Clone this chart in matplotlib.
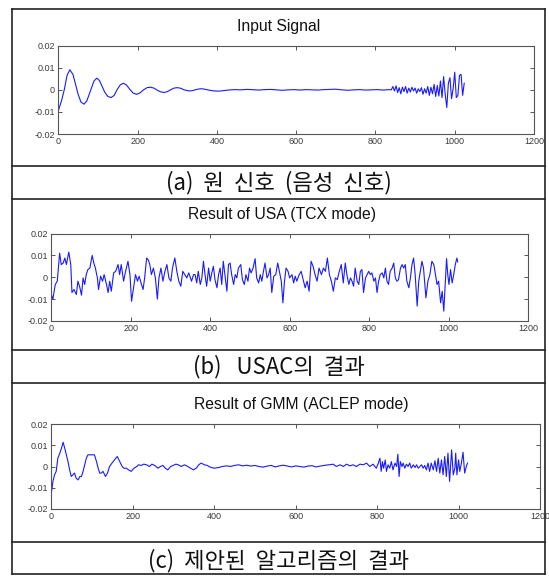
import numpy as np
import matplotlib
matplotlib.use("Agg")
import matplotlib.pyplot as plt
from matplotlib.lines import Line2D

# ---------------- data (values in units of 1e-3) ----------------
titles = ["Input Signal", "Result of USA (TCX mode)", "Result of GMM (ACLEP mode)"]
captions = ["(a)  원  신호  (음성  신호)", "(b)   USAC의  결과", "(c)  제안된  알고리즘의  결과"]
x_ticks = [0, 200, 400, 600, 800, 1000, 1200]
y_ticks = [-0.02, -0.01, 0, 0.01, 0.02]
y_tick_labels = ["-0.02", "-0.01", "0", "0.01", "0.02"]

sig1_idx = [0, 8, 15, 22, 29, 37, 45, 50, 57, 65, 72, 79, 84, 90, 97, 104, 112, 117, 125, 133,
            141, 148, 156, 164, 172, 180, 189, 198, 206, 215, 224, 233, 241, 250, 258, 267, 275,
            284, 292, 301, 309, 316, 324, 332, 340, 347, 355, 362, 372, 382, 393, 403, 415, 428,
            445, 460, 475, 490, 505, 520, 535, 550, 565, 580, 595, 610, 625, 640, 655, 670, 685,
            700, 715, 730, 745, 760, 775, 790, 805, 820, 835,
            840, 844, 848, 852, 856, 860, 864, 868, 872, 876, 880, 884, 888, 892, 896, 900, 904,
            908, 912, 916, 920, 924, 928, 932, 936, 940, 944, 948, 952, 956, 960, 964, 968, 972,
            976, 980, 984, 988, 992, 996, 1000, 1004, 1008, 1012, 1016, 1020, 1024]
sig1_val = [-9.5, -5.0, 0.0, 6.5, 9.1, 7.0, 1.5, -2.0, -5.5, -6.5, -5.0, -1.5, 1.0, 4.0, 5.3, 4.2,
            1.0, -1.0, -3.0, -3.5, -2.5, 0.0, 2.2, 3.0, 2.2, 0.3, -1.5, -2.0, -1.4, 0.0, 1.0, 1.2,
            0.8, -0.2, -0.9, -1.2, -0.8, 0.1, 0.8, 1.0, 0.7, 0.1, -0.3, -0.5, -0.3, 0.1, 0.4, 0.5,
            0.2, -0.2, -0.5, -0.6, -0.4, -0.1,
            0.1, 0.0, 0.2, 0.1, -0.1, 0.1, 0.2, 0.0, -0.2, 0.0, 0.1, -0.1, 0.1, 0.0, -0.1, 0.1, 0.2,
            0.3, 0.0, -0.2, 0.0, 0.1, -0.1, 0.0, 0.1, -0.1, 0.1,
            0.0, 1.5, -0.5, 1.8, -1.2, 1.0, -1.8, 1.2, -0.8, 1.5, -1.5, 0.8, -1.0, 1.2, -0.5, 0.8,
            -1.5, 0.5, -0.8, 1.0, -2.0, 0.5, -1.5, 1.5, -2.5, 1.2, -1.8, 2.5, -3.0, 2.0, -2.8, 4.0,
            -3.5, 6.0, -2.0, -8.0, 3.0, 5.5, -4.0, 0.5, 8.0, -3.5, -2.5, 6.5, 7.0, -2.5, 3.0]

sig2_idx = [0, 2, 4, 10, 15, 21, 25, 30, 34, 38, 44, 49, 52, 57, 63, 67, 72, 76, 80, 84, 88, 92,
            97, 103, 107, 111, 116, 119, 124, 129, 133, 139, 143, 147, 151, 157, 162, 168, 172,
            176, 182, 187, 193, 198, 202, 207, 212, 217, 221, 227, 231, 235, 240, 244, 248, 252,
            257, 262, 267, 271, 276, 281, 286, 291, 296, 301, 305, 311, 316, 321, 326, 331, 336,
            341, 346, 353, 358,
            362, 366, 370, 375, 379, 383, 387, 391, 396, 400, 404, 408, 412, 417, 421, 425, 429,
            433, 438, 442, 446, 450, 454, 459, 463, 467, 471, 477, 481, 486, 490, 495, 499, 503,
            508, 513, 517, 522, 526, 530, 534, 538, 543, 547, 551, 555, 560, 565, 570, 575, 579,
            583, 587, 591, 596, 600, 606, 610, 614, 618, 624, 629, 634, 639, 644, 649, 654, 659,
            664, 669, 674, 680, 685, 690, 695, 700, 705, 710, 715, 720, 725, 730, 735,
            740, 744, 749, 753, 757, 761, 765, 770, 774, 778, 782, 786, 791, 795, 799, 803, 807,
            812, 816, 820, 824, 828, 833, 837, 841, 845, 849, 853, 858, 862, 866, 870, 874, 879,
            883, 887, 891, 895, 900, 904, 908, 912, 916, 921, 925, 929, 933, 937, 943, 948, 953,
            958, 963, 967, 971, 975, 980, 984, 988, 992, 995, 998, 1001, 1005, 1009, 1013, 1017,
            1021, 1023]
sig2_val = [-7.9, -9.0, -10.0, -3.3, -1.8, 11.0, 5.8, 6.5, 8.8, 5.8, 11.5, 5.8, -7.0, -5.6, -7.9,
            -1.8, -4.8, -8.2, -0.3, -3.3, 1.2, 3.5, 4.2, 10.0, 6.5, 4.2, -0.3, -5.6, 0.5, -1.8,
            1.2, -3.3, -7.0, -1.8, -6.4, 2.0, 2.7, 5.8, 1.2, 5.8, -1.8, 2.7, 7.3, 1.2, -11.0,
            -4.8, 1.2, -1.8, 0.5, -3.3, -5.6, -0.3, 8.8, 8.0, 5.8, 1.2, 4.2, -0.3, -10.0, -0.3,
            4.2, -1.8, 2.7, 5.8, -0.3, -1.8, 4.2, 8.8, 2.7, -1.8, -4.1, 2.7, 1.2, -0.3, 2.0, -1.8,
            1.2,
            1.2, -2.6, 2.7, -3.3, -0.3, 7.3, 1.2, -4.1, 4.2, -1.8, 2.0, 5.0, -1.1, -4.8, 1.2, 4.2,
            -3.3, 7.3, -0.3, -6.4, 5.8, 6.5, 1.2, -3.3, 1.2, -0.3, 4.2, 5.8, -1.1, -3.3, 1.2, -1.8,
            4.2, 2.0, 4.2, 8.5, -0.3, -2.6, 1.2, -1.8, 2.7, 6.5, -0.3, 1.2, 4.2, -7.0, 0.5, 1.2,
            6.5, 2.0, -1.8, -11.7, -1.8, 4.2, 2.7, -0.3, 1.2, -2.6, 0.5, -1.8, 1.2, 2.7, -1.1,
            -4.8, -1.8, -6.4, 7.3, 5.0, 1.2, -1.8, 4.2, 1.2, 4.2, 2.7, 8.8, 1.2, -1.8, -6.4, -0.3,
            -1.1, 2.7, 5.8, -2.6,
            6.5, 1.2, -3.3, -0.3, -1.8, -4.1, 4.2, -1.8, -3.3, 2.7, 3.5, -7.0, -0.3, 1.2, 2.7, 1.2,
            2.0, -1.8, -0.3, -7.0, -1.8, 1.2, 2.0, -0.3, 4.2, -1.8, -3.3, 2.7, 4.2, 6.5, -0.3,
            -1.8, -1.1, 4.2, 5.8, 4.2, 5.8, -1.8, -4.8, -0.3, 5.8, 8.8, 1.2, -13.2, -1.8, 2.7, 7.3,
            4.2, -9.4, -1.8, 1.2, 7.3, 5.8, 1.2, -3.3, -1.8, -11.7, -6.4, -15.5, -1.8, 8.5, 1.2,
            -3.3, 3.5, -2.6, 1.2, 5.8, 8.8, 7.0]

sig3_idx = [0, 2, 4, 8, 12, 16, 21, 25, 29, 33, 37, 41, 45, 49, 53, 57, 61, 66, 70, 74, 78, 82,
            86, 90, 98, 106, 111, 115, 119, 123, 127, 133, 138, 143, 149, 155, 162, 168, 174, 178,
            184, 190, 196, 203, 210, 214, 221, 227, 234, 241, 247, 254, 262, 268, 274, 280, 286,
            293, 299, 306, 312, 319, 327, 335, 342, 349, 356, 362, 368, 376, 383,
            390, 400, 410, 420, 430, 440, 450, 460, 470, 480, 490, 500, 510, 520, 530, 540, 550,
            560, 570, 580, 590, 600, 610, 620, 630, 640, 650, 660, 670, 680,
            684, 692, 700, 709, 717, 725, 733, 741, 749, 758, 766, 774, 782, 790, 798, 803, 807,
            810, 813, 816, 820, 823, 827, 831, 835, 839, 844, 848, 851, 854, 857, 861, 864, 868,
            872, 876, 880, 884, 889, 893, 897, 901, 905, 909, 913, 917, 921, 925, 929, 933, 938,
            942, 946, 950, 954, 958, 962, 966, 970, 974, 978, 983, 987, 991, 993, 996, 1000, 1003,
            1007, 1011, 1015, 1019, 1022]
sig3_val = [-12.5, -10.0, -7.0, -3.9, -2.3, 3.9, 6.3, 8.6, 11.4, 8.6, 5.5, 2.3, -1.6, -4.7, -3.9,
            -3.1, -5.5, -6.3, -4.7, -4.7, -2.3, 0.8, 3.9, 5.5, 5.5, 5.5, 2.3, -0.8, -3.1, -3.1,
            -2.3, -4.7, -3.1, 0.0, 1.6, 3.1, 4.7, 2.3, 0.0, -0.8, -0.8, -1.6, -2.3, -0.8, 0.0, 0.8,
            0.5, 1.1, 0.8, 0.0, 1.1, 0.5, -0.8, 0.0, 0.5, -0.8, -1.6, 0.0, 0.5, 1.1, 0.8, 0.0, 0.8,
            0.0, -0.8, -1.6, -0.8, 0.8, 1.6, 0.8, 0.5,
            -0.3, -0.8, -0.5, 0.0, 0.3, 0.0, 0.5, 0.8, 0.3, 0.6, 0.2, 0.5, 0.0, -0.3, 0.2, 0.5,
            -0.2, 0.3, 0.6, 0.2, -0.2, 0.3, 0.0, -0.3, 0.2, 0.4, -0.2, 0.2, 0.5, 0.8,
            0.8, 1.1, 0.0, 0.8, 0.0, 1.1, 0.3, 0.8, 0.0, 1.1, 0.8, 1.6, 0.0, 1.1, -0.8, 1.6, 3.9,
            -2.3, 2.3, -0.8, 3.1, -2.3, 0.8, -0.8, 2.3, -1.6, 1.6, 0.0, 5.8, -4.7, 2.3, 0.0, 1.6,
            -0.8, 1.1, 0.0, 1.6, -0.8, 0.8, -0.5, 0.8, -0.8, 0.0, 0.8, -0.8, 0.5, -1.6, 1.6, -2.3,
            1.6, -1.6, 2.7, -2.3, 3.9, -3.1, 3.1, -3.9, 4.7, -4.7, 6.3, -7.0, 7.8, -3.9, -0.8, 6.3,
            -3.9, 3.1, -2.3, 1.6, 6.7, -3.1, 0.0, 1.6]

series = [(sig1_idx, sig1_val), (sig2_idx, sig2_val), (sig3_idx, sig3_val)]
unit = 1e-3

# ---------------- layout (pixels, measured from top-left) ----------------
W, H = 549, 576
fig = plt.figure(figsize=(W / 100, H / 100), dpi=100)
fig.patch.set_facecolor("white")

def fx(px):
    return px / W

def fy(py):
    return 1 - py / H

axes_px = [(58.3, 534, 45.7, 134), (51.3, 528, 233.5, 321), (51.3, 540, 424, 509)]
title_px = [(279, 27), (282, 214), (301, 405)]
caption_y = [183, 367, 561]

grey = "#3a3a3a"

for i, (l, r, t, b) in enumerate(axes_px):
    ax = fig.add_axes([fx(l), fy(b), fx(r) - fx(l), fy(t) - fy(b)])
    xi, yv = series[i]
    ax.plot(xi, np.asarray(yv) * unit, color="#1a1aff", lw=0.8)
    ax.set_xlim(0, 1200)
    ax.set_ylim(-0.02, 0.02)
    ax.set_xticks(x_ticks)
    ax.set_xticklabels([str(v) for v in x_ticks])
    ax.set_yticks(y_ticks)
    ax.set_yticklabels(y_tick_labels)
    ax.tick_params(direction="in", length=3, width=0.6, colors=grey, top=True, right=True,
                   labelsize=6.5, pad=2.5)
    for lab in ax.get_xticklabels() + ax.get_yticklabels():
        lab.set_family(["Liberation Sans", "DejaVu Sans"])
        lab.set_color(grey)
    for s in ax.spines.values():
        s.set_color("#555555")
        s.set_linewidth(0.8)
    tx, ty = title_px[i]
    fig.text(fx(tx), fy(ty), titles[i], ha="center", va="center", fontsize=11.3,
             family=["Liberation Sans", "DejaVu Sans"], color="#111111")
    fig.text(fx(278.5), fy(caption_y[i]), captions[i], ha="center", va="center", fontsize=16,
             family=["Noto Sans CJK KR", "DejaVu Sans"], weight="light", color="#111111")

# frame lines
frame_color = "#222222"
for yy in [8.5, 166, 199, 350, 383, 542, 574]:
    fig.add_artist(Line2D([fx(12), fx(545)], [fy(yy), fy(yy)], color=frame_color, lw=1.2))
for xx in [12, 545]:
    fig.add_artist(Line2D([fx(xx), fx(xx)], [fy(8.5), fy(574)], color=frame_color, lw=1.2))

fig.savefig("out.png", dpi=100)
